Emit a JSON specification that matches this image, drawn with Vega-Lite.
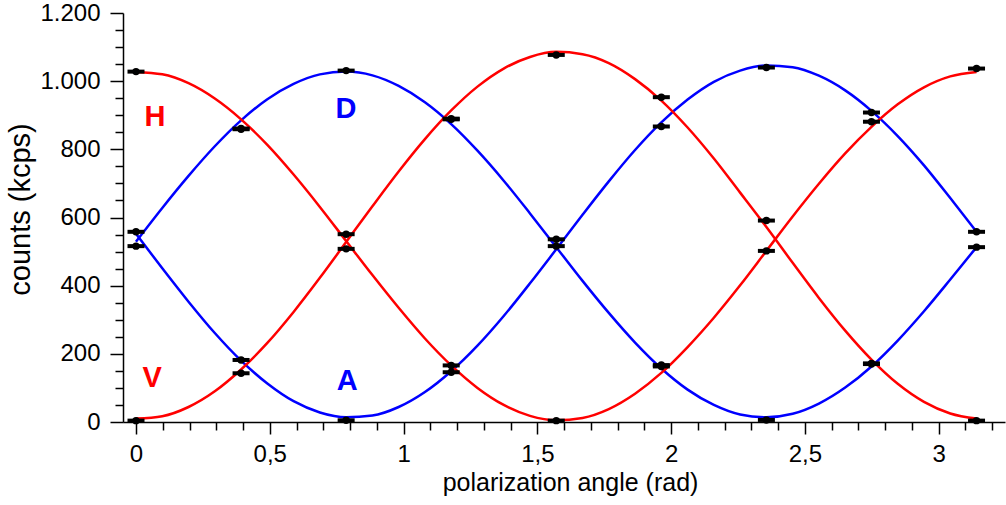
{
  "$schema": "https://vega.github.io/schema/vega-lite/v6.json",
  "width": 882,
  "height": 409,
  "autosize": "none",
  "padding": {"left": 123, "top": 13, "right": 1, "bottom": 83},
  "config": {
    "locale": {"number": {"decimal": ",", "thousands": ".", "grouping": [3], "currency": ["", " €"]}},
    "view": {"stroke": null},
    "font": "Liberation Sans",
    "axis": {
      "grid": false,
      "domainColor": "#000000",
      "domainWidth": 1.5,
      "tickColor": "#000000",
      "tickWidth": 1.5,
      "labelColor": "#000000",
      "titleColor": "#000000",
      "labelFont": "Liberation Sans",
      "titleFont": "Liberation Sans",
      "labelFontSize": 24,
      "titleFontSize": 25,
      "titleFontWeight": "normal",
      "labelFlush": false,
      "labelOverlap": false
    }
  },
  "resolve": {"axis": {"x": "independent", "y": "independent"}},
  "datasets": {
    "fits": [
      {"x": 0, "H": 1027, "V": 10, "D": 529, "A": 552},
      {"x": 0.0982, "H": 1020, "V": 17, "D": 628, "A": 451},
      {"x": 0.1963, "H": 994, "V": 44, "D": 722, "A": 353},
      {"x": 0.2945, "H": 949, "V": 90, "D": 809, "A": 261},
      {"x": 0.3927, "H": 888, "V": 154, "D": 885, "A": 180},
      {"x": 0.4909, "H": 813, "V": 232, "D": 947, "A": 113},
      {"x": 0.589, "H": 726, "V": 323, "D": 992, "A": 61},
      {"x": 0.6872, "H": 631, "V": 423, "D": 1020, "A": 28},
      {"x": 0.7854, "H": 531, "V": 528, "D": 1028, "A": 14},
      {"x": 0.8836, "H": 431, "V": 633, "D": 1017, "A": 19},
      {"x": 0.9817, "H": 335, "V": 735, "D": 986, "A": 44},
      {"x": 1.0799, "H": 245, "V": 830, "D": 938, "A": 88},
      {"x": 1.1781, "H": 166, "V": 914, "D": 874, "A": 149},
      {"x": 1.2763, "H": 100, "V": 984, "D": 796, "A": 224},
      {"x": 1.3744, "H": 50, "V": 1037, "D": 708, "A": 311},
      {"x": 1.4726, "H": 18, "V": 1071, "D": 612, "A": 407},
      {"x": 1.5708, "H": 5, "V": 1086, "D": 513, "A": 507},
      {"x": 1.669, "H": 12, "V": 1079, "D": 414, "A": 608},
      {"x": 1.7671, "H": 38, "V": 1053, "D": 320, "A": 706},
      {"x": 1.8653, "H": 83, "V": 1006, "D": 233, "A": 798},
      {"x": 1.9635, "H": 144, "V": 943, "D": 157, "A": 879},
      {"x": 2.0617, "H": 220, "V": 864, "D": 95, "A": 946},
      {"x": 2.1598, "H": 306, "V": 773, "D": 50, "A": 998},
      {"x": 2.258, "H": 401, "V": 673, "D": 22, "A": 1031},
      {"x": 2.3562, "H": 502, "V": 572, "D": 14, "A": 1046},
      {"x": 2.4544, "H": 603, "V": 467, "D": 24, "A": 1041},
      {"x": 2.5525, "H": 699, "V": 364, "D": 54, "A": 1016},
      {"x": 2.6507, "H": 788, "V": 268, "D": 101, "A": 973},
      {"x": 2.7489, "H": 866, "V": 183, "D": 163, "A": 913},
      {"x": 2.8471, "H": 932, "V": 112, "D": 239, "A": 839},
      {"x": 2.9452, "H": 982, "V": 59, "D": 325, "A": 753},
      {"x": 3.0434, "H": 1014, "V": 25, "D": 418, "A": 657},
      {"x": 3.1416, "H": 1027, "V": 10, "D": 513, "A": 558}
    ],
    "measured": [
      {"x": 0, "y": 1028}, {"x": 0, "y": 4}, {"x": 0, "y": 558}, {"x": 0, "y": 516},
      {"x": 0.3927, "y": 859}, {"x": 0.3927, "y": 861}, {"x": 0.3927, "y": 182}, {"x": 0.3927, "y": 143},
      {"x": 0.7854, "y": 1031}, {"x": 0.7854, "y": 551}, {"x": 0.7854, "y": 508}, {"x": 0.7854, "y": 5},
      {"x": 1.1781, "y": 888}, {"x": 1.1781, "y": 890}, {"x": 1.1781, "y": 166}, {"x": 1.1781, "y": 146},
      {"x": 1.5708, "y": 1077}, {"x": 1.5708, "y": 4}, {"x": 1.5708, "y": 536}, {"x": 1.5708, "y": 516},
      {"x": 1.9635, "y": 953}, {"x": 1.9635, "y": 867}, {"x": 1.9635, "y": 167}, {"x": 1.9635, "y": 163},
      {"x": 2.3562, "y": 1040}, {"x": 2.3562, "y": 591}, {"x": 2.3562, "y": 502}, {"x": 2.3562, "y": 6},
      {"x": 2.7489, "y": 908}, {"x": 2.7489, "y": 881}, {"x": 2.7489, "y": 172}, {"x": 2.7489, "y": 170},
      {"x": 3.1416, "y": 1037}, {"x": 3.1416, "y": 4}, {"x": 3.1416, "y": 558}, {"x": 3.1416, "y": 513}
    ],
    "tags": [
      {"x": 0.071, "y": 896, "series": "H"},
      {"x": 0.785, "y": 919, "series": "D"},
      {"x": 0.06, "y": 128, "series": "V"},
      {"x": 0.789, "y": 119, "series": "A"}
    ]
  },
  "layer": [
    {
      "data": {"name": "fits"},
      "transform": [
        {"fold": ["D", "A"], "as": ["series", "counts"]}
      ],
      "mark": {"type": "line", "strokeWidth": 2.5, "interpolate": "monotone"},
      "encoding": {
        "x": {
          "field": "x",
          "type": "quantitative",
          "scale": {"domain": [-0.0486, 3.248], "nice": false, "zero": false},
          "axis": {
            "orient": "bottom",
            "title": "polarization angle (rad)",
            "values": [0, 0.5, 1, 1.5, 2, 2.5, 3],
            "format": ".1~f",
            "tickSize": 12,
            "labelPadding": 8,
            "titlePadding": 4,
            "titleX": 447
          }
        },
        "y": {
          "field": "counts",
          "type": "quantitative",
          "scale": {"domain": [0, 1200], "nice": false},
          "axis": {
            "orient": "left",
            "title": "counts (kcps)",
            "values": [0, 200, 400, 600, 800, 1000, 1200],
            "format": ",d",
            "tickSize": 13,
            "labelPadding": 10,
            "titleFontSize": 29,
            "titlePadding": 4,
            "titleY": 196
          }
        },
        "color": {
          "field": "series",
          "type": "nominal",
          "scale": {"domain": ["H", "V", "D", "A"], "range": ["#ff0000", "#ff0000", "#0000ff", "#0000ff"]},
          "legend": null
        },
        "detail": {"field": "series"}
      }
    },
    {
      "data": {"name": "fits"},
      "transform": [
        {"fold": ["H", "V"], "as": ["series", "counts"]}
      ],
      "mark": {"type": "line", "strokeWidth": 2.5, "interpolate": "monotone"},
      "encoding": {
        "x": {
          "field": "x",
          "type": "quantitative",
          "axis": {
            "orient": "bottom",
            "title": null,
            "labels": false,
            "domain": false,
            "values": [0.1, 0.2, 0.3, 0.4, 0.6, 0.7, 0.8, 0.9, 1.1, 1.2, 1.3, 1.4, 1.6, 1.7, 1.8, 1.9, 2.1, 2.2, 2.3, 2.4, 2.6, 2.7, 2.8, 2.9, 3.1, 3.2],
            "tickSize": 8
          }
        },
        "y": {
          "field": "counts",
          "type": "quantitative",
          "axis": {
            "orient": "left",
            "title": null,
            "labels": false,
            "domain": false,
            "values": [50, 100, 150, 250, 300, 350, 450, 500, 550, 650, 700, 750, 850, 900, 950, 1050, 1100, 1150],
            "tickSize": 8
          }
        },
        "color": {"field": "series", "type": "nominal"},
        "detail": {"field": "series"}
      }
    },
    {
      "data": {"name": "measured"},
      "mark": {"type": "tick", "orient": "horizontal", "size": 17, "thickness": 4, "color": "#000000", "opacity": 1},
      "encoding": {
        "x": {"field": "x", "type": "quantitative", "axis": null},
        "y": {"field": "y", "type": "quantitative", "axis": null}
      }
    },
    {
      "data": {"name": "measured"},
      "mark": {"type": "point", "filled": true, "size": 55, "color": "#000000", "opacity": 1},
      "encoding": {
        "x": {"field": "x", "type": "quantitative", "axis": null},
        "y": {"field": "y", "type": "quantitative", "axis": null}
      }
    },
    {
      "data": {"name": "tags"},
      "mark": {"type": "text", "font": "Liberation Sans", "fontSize": 29, "fontWeight": "bold", "align": "center", "baseline": "middle"},
      "encoding": {
        "x": {"field": "x", "type": "quantitative", "axis": null},
        "y": {"field": "y", "type": "quantitative", "axis": null},
        "text": {"field": "series"},
        "color": {"field": "series", "type": "nominal"}
      }
    }
  ]
}
